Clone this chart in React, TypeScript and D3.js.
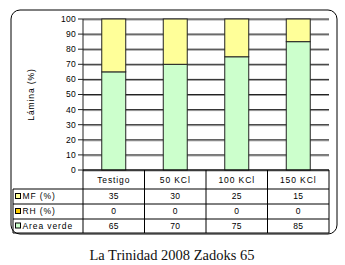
import React from "react";
import * as d3 from "d3";

const categories = ["Testigo", "50 KCl", "100 KCl", "150 KCl"];
const mfValues = [35, 30, 25, 15];
const rhValues = [0, 0, 0, 0];
const areaVerdeValues = [65, 70, 75, 85];
const yTicks = [0, 10, 20, 30, 40, 50, 60, 70, 80, 90, 100];
const seriesNames = ["MF (%)", "RH (%)", "Area verde"];
const seriesColors = ["#FFFF99", "#FFCC00", "#CCFFCC"];
const yLabel = "Lámina (%)";
const title = "La Trinidad 2008 Zadoks 65";

export default function App() {
  const W = 345, H = 265;
  const left = 83, right = 329, top = 19, bottom = 170;
  const x = d3.scaleBand<string>().domain(categories).range([left, right]).paddingInner(0.61).paddingOuter(0.305);
  const y = d3.scaleLinear().domain([0, 100]).range([bottom, top]);
  const step = x.step();
  const rows = [
    { name: seriesNames[0], color: seriesColors[0], vals: mfValues },
    { name: seriesNames[1], color: seriesColors[1], vals: rhValues },
    { name: seriesNames[2], color: seriesColors[2], vals: areaVerdeValues },
  ];
  const rowY = [189, 204, 219, 233];
  const tableLeft = 13;
  const font = "'Liberation Sans', Arial, sans-serif";
  const ls = 0.9;
  const data = categories.map((c, i) => ({ cat: c, verde: areaVerdeValues[i], rh: rhValues[i], mf: mfValues[i] }));
  const stack = d3.stack<any>().keys(["verde", "rh", "mf"])(data);
  const stackColors: Record<string, string> = { verde: seriesColors[2], rh: seriesColors[1], mf: seriesColors[0] };

  return (
    <svg width={W} height={H} style={{ position: "absolute", left: 0, top: 0 }}>
      <rect x={0} y={0} width={W} height={H} fill="#fff" />
      <rect x={11} y={10} width={326} height={224} rx={9} fill="#fff" stroke="#000" strokeWidth={1} />
      {yTicks.map((t) => (
        <g key={t}>
          <line x1={left} x2={right} y1={y(t) + 1} y2={y(t) + 1} stroke="#999" strokeWidth={1} />
          <line x1={left - 5} x2={right} y1={y(t)} y2={y(t)} stroke="#222" strokeWidth={1} />
          <text x={76} y={y(t)} dy="0.35em" textAnchor="end" fontFamily={font} fontSize={8.5} letterSpacing={0.3} fill="#000">{t}</text>
        </g>
      ))}
      <line x1={left} x2={left} y1={top} y2={bottom} stroke="#222" strokeWidth={1} />
      {stack.map((s) =>
        s.map((d, i) => {
          const h = y(d[0]) - y(d[1]);
          if (h <= 0) return null;
          return (
            <rect key={s.key + i} x={x(categories[i])!} y={y(d[1])} width={x.bandwidth()} height={h}
              fill={stackColors[s.key]} stroke="#222" strokeWidth={1} />
          );
        })
      )}
      <text transform={`translate(31,${(top + bottom) / 2}) rotate(-90)`} textAnchor="middle" dy="0.35em"
        fontFamily={font} fontSize={8.5} letterSpacing={ls} fill="#000">{yLabel}</text>
      <g stroke="#000" strokeWidth={1}>
        <line x1={left} x2={right} y1={bottom} y2={bottom} />
        {rowY.map((ry, i) => (
          <line key={i} x1={tableLeft} x2={right} y1={ry} y2={ry} />
        ))}
        <line x1={tableLeft} x2={tableLeft} y1={rowY[0]} y2={rowY[3]} />
        {d3.range(categories.length + 1).map((i) => (
          <line key={i} x1={left + i * step} x2={left + i * step} y1={bottom} y2={rowY[3]} />
        ))}
      </g>
      {categories.map((c, i) => (
        <text key={c} x={left + (i + 0.5) * step} y={(bottom + rowY[0]) / 2 + 1} dy="0.35em" textAnchor="middle"
          fontFamily={font} fontSize={8.5} letterSpacing={ls} fill="#000">{c}</text>
      ))}
      {rows.map((r, ri) => (
        <g key={r.name}>
          <rect x={15.5} y={(rowY[ri] + rowY[ri + 1]) / 2 - 3} width={5} height={5} fill={r.color} stroke="#000" strokeWidth={1} />
          <text x={22.5} y={(rowY[ri] + rowY[ri + 1]) / 2} dy="0.35em" fontFamily={font} fontSize={8.5} letterSpacing={ls} fill="#000">{r.name}</text>
          {r.vals.map((v, i) => (
            <text key={i} x={left + (i + 0.5) * step} y={(rowY[ri] + rowY[ri + 1]) / 2} dy="0.35em" textAnchor="middle"
              fontFamily={font} fontSize={8.5} letterSpacing={0.3} fill="#000">{v}</text>
          ))}
        </g>
      ))}
      <text x={172} y={260} textAnchor="middle" fontFamily="'Liberation Serif', 'Times New Roman', serif" fontSize={14.5} fill="#111">{title}</text>
    </svg>
  );
}
